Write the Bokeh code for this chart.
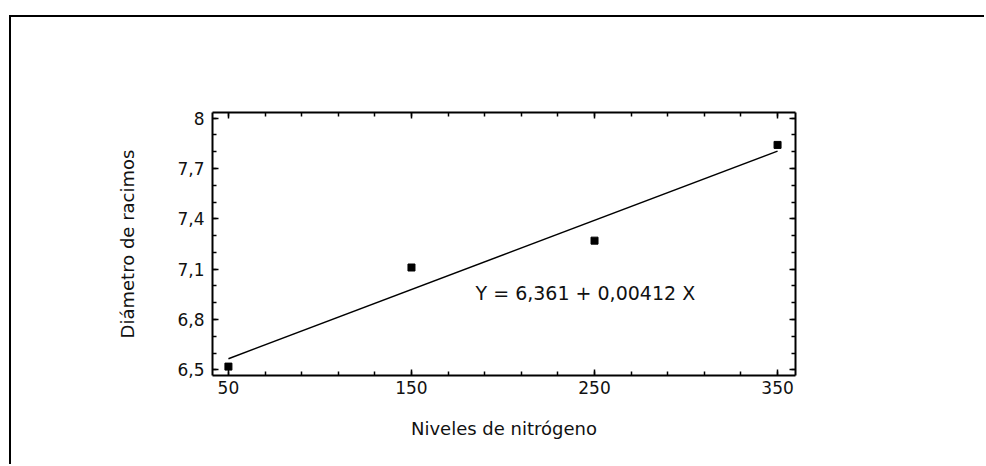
from bokeh.plotting import figure
from bokeh.models import (LinearAxis, FixedTicker, CustomJSTickFormatter, Range1d,
                          Label)
from bokeh.embed import file_html
from bokeh.resources import INLINE

# ---- data ----
nitrogen_levels = [50, 150, 250, 350]
cluster_diameter = [6.52, 7.11, 7.27, 7.84]

intercept = 6.361
slope = 0.00412
equation_text = "Y = 6,361 + 0,00412 X"

x_major_ticks = [50, 150, 250, 350]
x_minor_ticks = [50, 70, 90, 110, 130, 150, 170, 190, 210, 230, 250,
                 270, 290, 310, 330, 350]
x_tick_labels = ["50", "150", "250", "350"]

y_major_ticks = [6.5, 6.8, 7.1, 7.4, 7.7, 8.0]
y_minor_ticks = [6.5, 6.6, 6.7, 6.8, 6.9, 7.0, 7.1, 7.2, 7.3, 7.4, 7.5,
                 7.6, 7.7, 7.8, 7.9, 8.0]
y_tick_labels = ["6,5", "6,8", "7,1", "7,4", "7,7", "8"]

x_label = "Niveles de nitrógeno"
y_label = "Diámetro de racimos"

FONT = "DejaVu Sans"
TXT = "#111111"

fit_x = [nitrogen_levels[0], nitrogen_levels[-1]]
fit_y = [intercept + slope * v for v in fit_x]

# figure placed inside an outer frame (left + top edges) drawn with CSS borders
p = figure(width=975, height=449, output_backend="svg", toolbar_location=None,
           x_range=Range1d(41.3, 359.8), y_range=Range1d(6.467, 8.033),
           x_axis_location=None, y_axis_location=None,
           min_border_left=201, min_border_right=191,
           min_border_top=95, min_border_bottom=91,
           styles={"margin-left": "9px", "margin-top": "15px",
                   "border-left": "2px solid black",
                   "border-top": "2px solid black"})
p.xgrid.visible = False
p.ygrid.visible = False
p.outline_line_color = None
p.background_fill_color = "white"
p.border_fill_color = "white"

label_code = """
const i = tvals.findIndex(t => Math.abs(t - tick) < 1e-6);
return i >= 0 ? tlabels[i] : "";
"""
blank_code = "return '';"

def style_axis(ax):
    ax.axis_line_color = "black"
    ax.axis_line_width = 2
    ax.major_tick_in = 6
    ax.major_tick_out = 0
    ax.minor_tick_in = 4
    ax.minor_tick_out = 0
    ax.major_tick_line_color = "black"
    ax.minor_tick_line_color = "black"
    ax.major_tick_line_width = 1.5
    ax.minor_tick_line_width = 1.5
    ax.major_label_text_font = FONT
    ax.major_label_text_font_size = "17px"
    ax.major_label_text_color = TXT
    ax.axis_label_text_font = FONT
    ax.axis_label_text_font_size = "18px"
    ax.axis_label_text_font_style = "normal"
    ax.axis_label_text_color = TXT

xt = FixedTicker(ticks=x_major_ticks, minor_ticks=x_minor_ticks)
yt = FixedTicker(ticks=y_major_ticks, minor_ticks=y_minor_ticks)

bottom = LinearAxis(ticker=xt, axis_label=x_label,
                    formatter=CustomJSTickFormatter(args=dict(tvals=x_major_ticks, tlabels=x_tick_labels), code=label_code))
style_axis(bottom)
bottom.major_label_standoff = 5
bottom.axis_label_standoff = 21
p.add_layout(bottom, "below")

left = LinearAxis(ticker=yt, axis_label=y_label,
                  formatter=CustomJSTickFormatter(args=dict(tvals=y_major_ticks, tlabels=y_tick_labels), code=label_code))
style_axis(left)
left.major_label_standoff = 8
left.axis_label_standoff = 36
p.add_layout(left, "left")

top = LinearAxis(ticker=FixedTicker(ticks=x_major_ticks, minor_ticks=x_minor_ticks),
                 formatter=CustomJSTickFormatter(code=blank_code))
style_axis(top)
top.major_label_standoff = 0
p.add_layout(top, "above")

right = LinearAxis(ticker=FixedTicker(ticks=y_major_ticks, minor_ticks=y_minor_ticks),
                   formatter=CustomJSTickFormatter(code=blank_code))
style_axis(right)
right.major_label_standoff = 0
p.add_layout(right, "right")

# regression line and data points
p.line(fit_x, fit_y, line_color="black", line_width=1.5)
p.scatter(nitrogen_levels, cluster_diameter, marker="square", size=7,
          fill_color="black", line_color="black")

p.add_layout(Label(x=185, y=6.956, text=equation_text, text_font=FONT,
                   text_font_size="19px", text_color=TXT,
                   text_align="left", text_baseline="middle"))

open("out.html", "w").write(file_html(p, INLINE))
